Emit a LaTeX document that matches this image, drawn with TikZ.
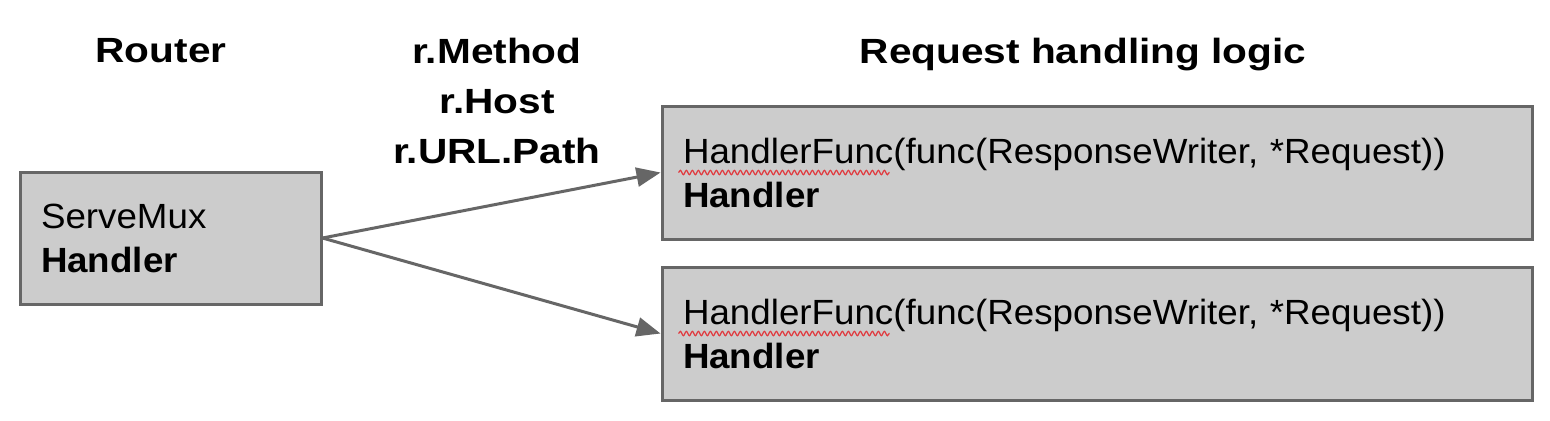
\documentclass[tikz,border=0pt]{standalone}
\usepackage{fontspec}
\setmainfont{Liberation Sans}[FakeStretch=1.05]
\newfontfamily\titlefont{Liberation Sans}[FakeStretch=1.16]
\usetikzlibrary{arrows.meta,decorations.pathmorphing}
\definecolor{boxgray}{HTML}{CCCCCC}
\definecolor{edgegray}{HTML}{666666}
\definecolor{spellred}{HTML}{E0393E}

\begin{document}
\begin{tikzpicture}[x=0.5pt,y=-0.5pt,
  box/.style={draw=edgegray,fill=boxgray,line width=1.5pt,align=left,
    inner xsep=10.5pt,inner ysep=0pt,font=\fontsize{17.5}{22}\selectfont},
  title/.style={align=center,inner sep=0pt,
    font=\fontsize{17.5}{25}\selectfont\titlefont\bfseries},
  link/.style={draw=edgegray,line width=1.5pt,-{Triangle[length=12pt,width=9.5pt]}},
  squiggle/.style={draw=spellred,line width=0.6pt,decorate,
    decoration={snake,amplitude=1.1pt,segment length=3pt}}]
{
\path[use as bounding box,fill=white] (0,0) rectangle (1550,420);
%
\node[title,anchor=base] (router) at (161,62) {Router};
\node[title,anchor=north] (fields) at (497,37.5) {r.Method\\r.Host\\r.URL.Path};
\node[title,anchor=base] (logic) at (1083,63) {Request handling logic};
%
\node[box,text width=129.5pt,minimum height=66pt] (mux) at (170.5,238) {ServeMux\\\textbf{Handler}};
\foreach \n/\y in {h1/172.5,h2/333.5}{
\node[box,text width=414pt,minimum height=66.5pt] (\n) at (1097,\y)
  {HandlerFunc(func(ResponseWriter, *Request))\\\textbf{Handler}};
\draw[squiggle] ([xshift=9pt]\n.west) -- ([xshift=114.5pt]\n.west);
}
%
\draw[link] (mux.east) -- (h1.west);
\draw[link] (mux.east) -- (h2.west);
}
\end{tikzpicture}
\end{document}
